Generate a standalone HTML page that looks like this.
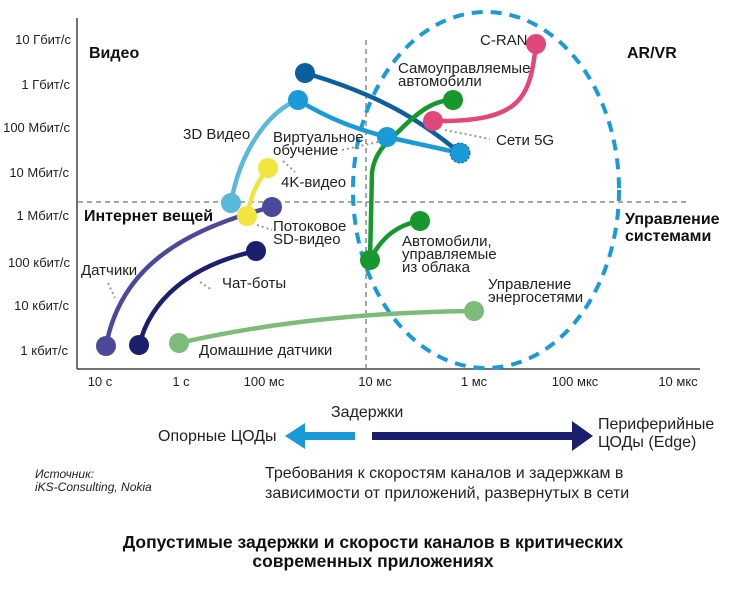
<!DOCTYPE html><html><head><meta charset="utf-8"><style>
body{margin:0;background:#fff}
svg{display:block;font-family:"Liberation Sans",sans-serif}
</style></head><body>
<svg width="738" height="590" viewBox="0 0 738 590">
<g font-size="13" fill="#222" text-anchor="end">
<text x="71" y="44">10 Гбит/с</text><text x="70" y="89">1 Гбит/с</text><text x="70" y="132">100 Мбит/с</text>
<text x="69" y="177">10 Мбит/с</text><text x="69" y="220">1 Мбит/с</text><text x="70" y="267">100 кбит/с</text>
<text x="69" y="310">10 кбит/с</text><text x="68" y="355">1 кбит/с</text></g>
<line x1="77" y1="18" x2="77" y2="369" stroke="#444" stroke-width="1.5"/>
<line x1="77" y1="369" x2="700" y2="369" stroke="#444" stroke-width="1.5"/>
<g font-size="13" fill="#222" text-anchor="middle">
<text x="100" y="386">10 с</text><text x="181" y="386">1 с</text><text x="264" y="386">100 мс</text>
<text x="375" y="386">10 мс</text><text x="474" y="386">1 мс</text><text x="575" y="386">100 мкс</text><text x="678" y="386">10 мкс</text></g>
<line x1="366" y1="40" x2="366" y2="368" stroke="#888" stroke-width="1.5" stroke-dasharray="5,4"/>
<line x1="78" y1="202" x2="688" y2="202" stroke="#888" stroke-width="1.5" stroke-dasharray="5,4"/>
<ellipse cx="486" cy="190" rx="133" ry="178" fill="none" stroke="#1a9ad6" stroke-width="4" stroke-dasharray="11,8"/>
<g fill="none" stroke-width="4.5" stroke-linecap="round">
<path d="M305,73 C380,95 420,120 460,153" stroke="#0a5f9e"/>
<path d="M231,203 C240,150 270,110 298,100" stroke="#5ab8da"/>
<path d="M298,100 C330,120 360,130 387,137 L460,153" stroke="#1a9ad6"/>
<path d="M268,168 C255,185 252,195 247,214" stroke="#f2e43e"/>
<path d="M272,207 C180,230 120,270 106,346" stroke="#4b4a9a"/>
<path d="M256,251 C190,265 150,300 139,346" stroke="#1b1f6e"/>
<path d="M179,343 C280,320 380,312 474,311" stroke="#7dbb7a"/>
<path d="M370,260 L372,172 C375,150 390,140 400,130 C420,110 435,100 453,100" stroke="#17982e"/>
<path d="M370,260 C380,240 395,225 420,221" stroke="#17982e"/>
<path d="M536,44 C530,100 520,122 433,121" stroke="#e0477a"/>
</g>
<g stroke="#999" stroke-width="2" stroke-dasharray="2,3" fill="none">
<path d="M342,150 L378,142"/><path d="M283,161 L295,172"/><path d="M257,225 L272,230"/>
<path d="M108,283 L115,298"/><path d="M200,282 L212,290"/><path d="M445,130 L490,139"/></g>
<g>
<circle cx="305" cy="73" r="10" fill="#0a5f9e"/><circle cx="298" cy="100" r="10" fill="#1a9ad6"/>
<circle cx="231" cy="203" r="10" fill="#5ab8da"/><circle cx="268" cy="168" r="10" fill="#f2e43e"/>
<circle cx="247" cy="216" r="10" fill="#f2e43e"/><circle cx="272" cy="207" r="10" fill="#4b4a9a"/>
<circle cx="256" cy="251" r="10" fill="#1b1f6e"/><circle cx="106" cy="346" r="10" fill="#4b4a9a"/>
<circle cx="139" cy="345" r="10" fill="#1b1f6e"/><circle cx="179" cy="343" r="10" fill="#7dbb7a"/>
<circle cx="474" cy="311" r="10" fill="#7dbb7a"/><circle cx="387" cy="137" r="10" fill="#1a9ad6"/>
<circle cx="460" cy="153" r="10" fill="#1a9ad6" stroke="#0a5f9e" stroke-width="1" stroke-dasharray="2,2"/>
<circle cx="453" cy="100" r="10" fill="#17982e"/><circle cx="370" cy="260" r="10" fill="#17982e"/>
<circle cx="420" cy="221" r="10" fill="#17982e"/><circle cx="536" cy="44" r="10" fill="#e0477a"/>
<circle cx="433" cy="121" r="10" fill="#e0477a"/></g>
<g font-size="16" font-weight="bold" fill="#111">
<text x="89" y="58">Видео</text><text x="627" y="58">AR/VR</text><text x="84" y="221">Интернет вещей</text>
<text x="625" y="224">Управление</text><text x="625" y="241">системами</text></g>
<g font-size="15" fill="#222">
<text x="183" y="139">3D Видео</text><text x="273" y="142">Виртуальное</text><text x="273" y="155">обучение</text>
<text x="281" y="187">4K-видео</text><text x="273" y="231">Потоковое</text><text x="273" y="244">SD-видео</text>
<text x="81" y="275">Датчики</text><text x="222" y="288">Чат-боты</text><text x="199" y="355">Домашние датчики</text>
<text x="480" y="45">C-RAN</text><text x="398" y="73">Самоуправляемые</text><text x="398" y="86">автомобили</text>
<text x="496" y="145">Сети 5G</text><text x="402" y="246">Автомобили,</text><text x="402" y="259">управляемые</text><text x="402" y="272">из облака</text>
<text x="488" y="289">Управление</text><text x="488" y="302">энергосетями</text></g>
<g font-size="16" fill="#222">
<text x="331" y="417">Задержки</text><text x="158" y="441">Опорные ЦОДы</text>
<text x="598" y="429">Периферийные</text><text x="598" y="447">ЦОДы (Edge)</text>
<text x="265" y="478">Требования к скоростям каналов и задержкам в</text>
<text x="265" y="498">зависимости от приложений, развернутых в сети</text></g>
<polygon points="285,436 305,423 305,432 355,432 355,440 305,440 305,449" fill="#1a9ad6"/>
<polygon points="372,432 572,432 572,421 593,436 572,451 572,440 372,440" fill="#1b1f6e"/>
<g font-size="12" font-style="italic" fill="#222"><text x="35" y="478">Источник:</text><text x="35" y="491">iKS-Consulting, Nokia</text></g>
<g font-size="17.5" font-weight="bold" fill="#111" text-anchor="middle">
<text x="373" y="548">Допустимые задержки и скорости каналов в критических</text>
<text x="373" y="567">современных приложениях</text></g>
</svg></body></html>
